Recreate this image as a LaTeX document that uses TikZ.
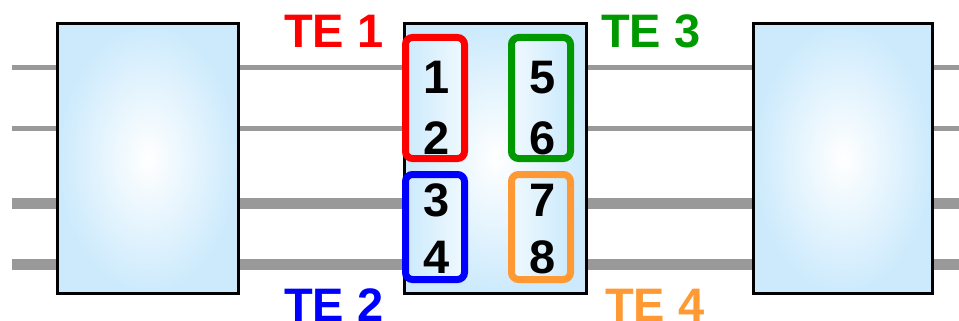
\documentclass[tikz,border=0pt]{standalone}
\usepackage{fontspec}
\setmainfont{Liberation Sans}
\definecolor{lblue}{HTML}{CCEAFC}
\definecolor{wire}{HTML}{999999}
\definecolor{tered}{HTML}{FF0000}
\definecolor{teblue}{HTML}{0000FF}
\definecolor{tegreen}{HTML}{009900}
\definecolor{teorange}{HTML}{FF9933}
\tikzset{
  bigbox/.style={draw=black, line width=3pt, inner sep=0pt, shading=radial,
    inner color=white, outer color=lblue, minimum height=270pt},
  grpbox/.style={line width=7pt, rounded corners=7pt, inner sep=0pt, minimum width=59pt},
  grpL/.style={grpbox, left color=lblue, right color=white!70!lblue},
  grpR/.style={grpbox, left color=white!70!lblue, right color=lblue},
  thinwire/.style={wire, line width=5pt},
  thickwire/.style={wire, line width=11pt},
  digit/.style={font=\fontsize{47}{47}\selectfont\bfseries, anchor=base, inner sep=0pt},
  telabel/.style={font=\fontsize{47}{47}\selectfont\bfseries, anchor=base west, inner sep=0pt}
}
\begin{document}
\begin{tikzpicture}[x=1pt,y=-1pt]
\useasboundingbox (0,0) rectangle (959,321);
% wire end points
\coordinate (w1s) at (12,67.5);  \coordinate (w1e) at (959,67.5);
\coordinate (w2s) at (12,128);   \coordinate (w2e) at (959,128);
\coordinate (w3s) at (12,203);   \coordinate (w3e) at (959,203);
\coordinate (w4s) at (12,264);   \coordinate (w4e) at (959,264);
\draw[thinwire] (w1s) -- (w1e);
\draw[thinwire] (w2s) -- (w2e);
\draw[thickwire] (w3s) -- (w3e);
\draw[thickwire] (w4s) -- (w4e);
% boxes
\node[bigbox, minimum width=181pt] (left) at (148,158.5) {};
\node[bigbox, minimum width=182pt] (mid) at (495.5,158.5) {};
\node[bigbox, minimum width=179pt] (right) at (843,158.5) {};
% groups
\node[grpL, draw=tered, minimum height=121pt] (g1) at (435,98) {};
\node[grpL, draw=teblue, minimum height=105pt] (g2) at (435,227) {};
\node[grpR, draw=tegreen, minimum height=121pt] (g3) at (541,98) {};
\node[grpR, draw=teorange, minimum height=105pt] (g4) at (541,227) {};
% digits
\node[digit] (d1) at (437,94) {1};
\node[digit] (d2) at (437,154) {2};
\node[digit] (d3) at (437,216) {3};
\node[digit] (d4) at (437,273) {4};
\node[digit] (d5) at (543,94) {5};
\node[digit] (d6) at (543,154) {6};
\node[digit] (d7) at (543,216) {7};
\node[digit] (d8) at (543,273) {8};
% labels
\node[telabel, text=tered] (te1) at (284,47.5) {TE 1};
\node[telabel, text=teblue] (te2) at (284,321.5) {TE 2};
\node[telabel, text=tegreen] (te3) at (601,47.5) {TE 3};
\node[telabel, text=teorange] (te4) at (605,321.5) {TE 4};
\end{tikzpicture}
\end{document}
